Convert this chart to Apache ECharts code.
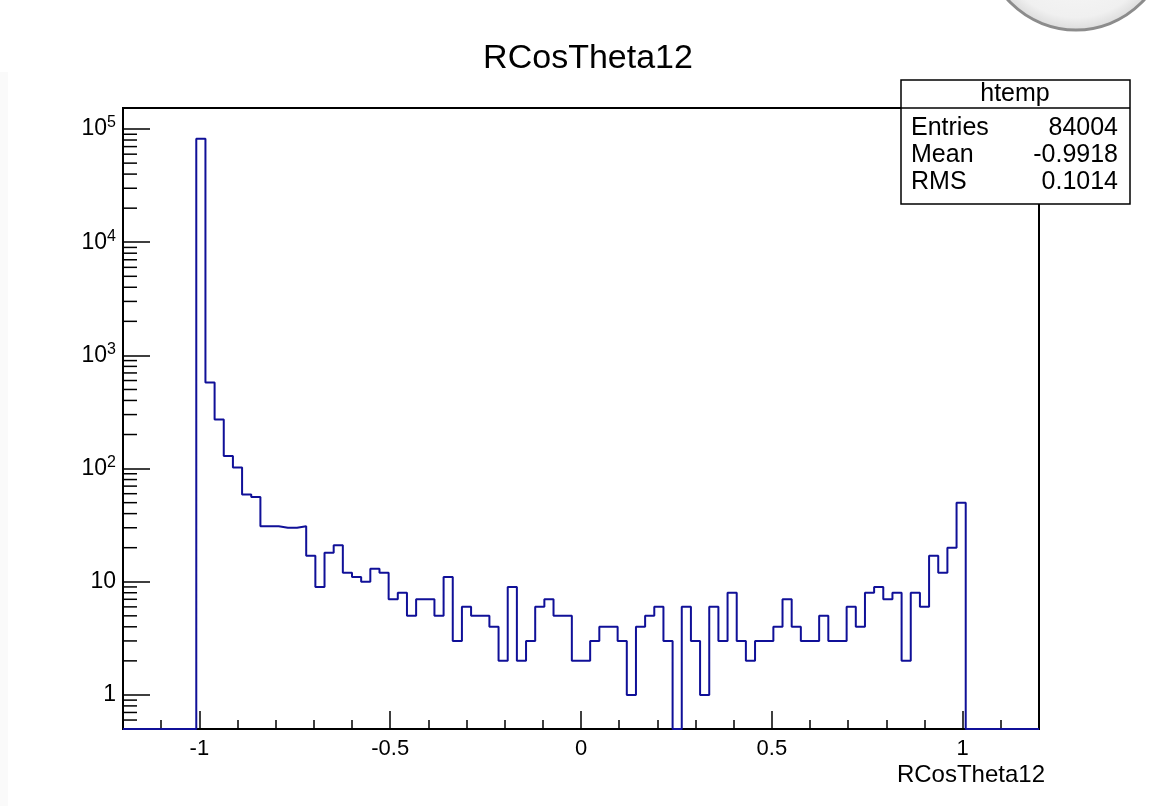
<!DOCTYPE html>
<html>
<head>
<meta charset="utf-8">
<title>RCosTheta12</title>
<script src="https://cdn.jsdelivr.net/npm/echarts@6/dist/echarts.min.js"></script>
<style>
  html, body { margin: 0; padding: 0; background: #fff; }
  #main { width: 1153px; height: 806px; }
</style>
</head>
<body>
<div id="main"></div>
<script>
// htemp : 100 bins between -1.2 and 1.2
var binLow = -1.2;
var binWidth = 0.024;
var counts = [
  0, 0, 0, 0, 0, 0, 0, 0, 82159, 575,
  272, 129, 102, 59, 56, 31, 31, 30, 30, 31,
  17, 9, 18, 21, 12, 11, 10, 13, 12, 7,
  8, 5, 7, 7, 5, 11, 3, 6, 5, 5,
  4, 2, 9, 2, 3, 6, 7, 5, 5, 2,
  2, 3, 4, 4, 3, 1, 4, 5, 6, 3,
  0, 6, 3, 1, 6, 3, 8, 3, 2, 3,
  3, 4, 7, 4, 3, 3, 5, 3, 3, 6,
  4, 8, 9, 7, 8, 2, 8, 6, 17, 12,
  20, 50, 0, 0, 0, 0, 0, 0, 0, 0
];
var xMajorTicks = [-1, -0.5, 0, 0.5, 1];
var xMinorTicks = [-1.1, -0.9, -0.8, -0.7, -0.6, -0.4, -0.3, -0.2, -0.1,
                   0.1, 0.2, 0.3, 0.4, 0.6, 0.7, 0.8, 0.9, 1.1];
var statNames = ['Entries', 'Mean', 'RMS'];
var statValues = ['84004', '-0.9918', '0.1014'];

var xMin = -1.2, xMax = 1.2;
var yMin = 0.5, yMax = 153500;
var font = '"Liberation Sans", Arial, Helvetica, sans-serif';
var lineCol = '#101098';

// step points on the bin edges, empty bins sit on the frame bottom like ROOT does
var histPts = [];
for (var i = 0; i < counts.length; i++) {
  histPts.push([binLow + i * binWidth, Math.max(counts[i], yMin)]);
}
histPts.push([binLow + counts.length * binWidth, Math.max(counts[counts.length - 1], yMin)]);

// log minor ticks 2..9 per decade
var yMinor = [];
for (var d = -1; d <= 5; d++) {
  for (var m = 2; m <= 9; m++) {
    var v = m * Math.pow(10, d);
    if (v > yMin && v < yMax) yMinor.push([xMin, v]);
  }
}

var myChart = echarts.init(document.getElementById('main'));
var option = {
  backgroundColor: '#fff',
  animation: false,
  title: {
    text: 'RCosTheta12',
    left: 583,
    top: 37,
    textAlign: 'center',
    textStyle: { fontSize: 34, fontWeight: 'normal', color: '#000', fontFamily: font }
  },
  grid: {
    left: 123, top: 108, width: 916, height: 621,
    show: true, borderColor: '#000', borderWidth: 2, backgroundColor: 'transparent'
  },
  xAxis: [{
    type: 'value', min: xMin, max: xMax, position: 'bottom',
    axisLine: { show: false, onZero: false },
    splitLine: { show: false },
    axisTick: { inside: true, length: 9, customValues: xMinorTicks, lineStyle: { color: '#000', width: 1.5 } },
    axisLabel: {
      customValues: xMajorTicks, margin: 9, color: '#000', fontSize: 22, fontFamily: font,
      formatter: function (v) { return String(v); }
    }
  }, {
    type: 'value', min: xMin, max: xMax, position: 'bottom',
    axisLine: { show: false, onZero: false },
    splitLine: { show: false },
    axisLabel: { show: false },
    axisTick: { inside: true, length: 18, customValues: xMajorTicks, lineStyle: { color: '#000', width: 1.5 } }
  }],
  yAxis: {
    type: 'log', logBase: 10, min: yMin, max: yMax, position: 'left',
    axisLine: { show: false, onZero: false },
    splitLine: { show: false },
    axisTick: { inside: true, length: 27, lineStyle: { color: '#000', width: 1.5 } },
    axisLabel: {
      margin: 7, color: '#000', showMinLabel: false, showMaxLabel: false,
      formatter: function (v) {
        var p = Math.log10(v), e = Math.round(p);
        if (Math.abs(p - e) > 1e-6) return '';
        if (e === 0) return '{b|1}';
        if (e === 1) return '{b|10}';
        return '{b|10}{s|' + e + '}';
      },
      rich: {
        b: { fontSize: 23, fontFamily: font, color: '#000' },
        s: { fontSize: 16, fontFamily: font, color: '#000', padding: [0, 0, 12, 0] }
      }
    }
  },
  series: [{
    name: 'htemp',
    type: 'line',
    step: 'end',
    symbol: 'none',
    data: histPts,
    lineStyle: { color: lineCol, width: 2 },
    clip: false,
    silent: true,
    z: 5
  }, {
    name: 'yMinorTicks',
    type: 'custom',
    data: yMinor,
    silent: true,
    clip: false,
    renderItem: function (params, api) {
      var p = api.coord([api.value(0), api.value(1)]);
      return {
        type: 'line',
        shape: { x1: p[0], y1: p[1], x2: p[0] + 14, y2: p[1] },
        style: { stroke: '#000', lineWidth: 1.5 }
      };
    }
  }],
  graphic: [
    // faint strip at the left edge
    { type: 'rect', left: 0, top: 72, shape: { width: 8, height: 734 }, style: { fill: '#fafafa' }, z: 0, silent: true },
    // the round grey thing in the corner
    {
      type: 'circle', shape: { cx: 1076, cy: -62, r: 92 }, z: 1, silent: true,
      style: {
        fill: new echarts.graphic.RadialGradient(0.5, 0.5, 0.5, [
          { offset: 0, color: '#fcfcfc' },
          { offset: 0.85, color: '#f0f0f0' },
          { offset: 1, color: '#dadada' }
        ]),
        stroke: '#8c8c8c', lineWidth: 3
      }
    },
    {
      type: 'text', silent: true, z: 10,
      style: { text: 'RCosTheta12', x: 1045, y: 775, align: 'right', verticalAlign: 'middle',
               fontSize: 24, fontFamily: font, fill: '#000' }
    },
    // stats box
    {
      type: 'group', z: 100, silent: true,
      children: [
        { type: 'rect', shape: { x: 901, y: 80, width: 229, height: 124 },
          style: { fill: '#fff', stroke: '#000', lineWidth: 1.5 } },
        { type: 'line', shape: { x1: 901, y1: 108, x2: 1130, y2: 108 },
          style: { stroke: '#000', lineWidth: 1.5 } },
        { type: 'text', style: { text: 'htemp', x: 1015, y: 94, align: 'center', verticalAlign: 'middle',
          fontSize: 25, fontFamily: font, fill: '#000' } },
        { type: 'text', style: { text: statNames[0], x: 911, y: 128, verticalAlign: 'middle', fontSize: 25, fontFamily: font, fill: '#000' } },
        { type: 'text', style: { text: statNames[1], x: 911, y: 155, verticalAlign: 'middle', fontSize: 25, fontFamily: font, fill: '#000' } },
        { type: 'text', style: { text: statNames[2], x: 911, y: 182, verticalAlign: 'middle', fontSize: 25, fontFamily: font, fill: '#000' } },
        { type: 'text', style: { text: statValues[0], x: 1118, y: 128, align: 'right', verticalAlign: 'middle', fontSize: 25, fontFamily: font, fill: '#000' } },
        { type: 'text', style: { text: statValues[1], x: 1118, y: 155, align: 'right', verticalAlign: 'middle', fontSize: 25, fontFamily: font, fill: '#000' } },
        { type: 'text', style: { text: statValues[2], x: 1118, y: 182, align: 'right', verticalAlign: 'middle', fontSize: 25, fontFamily: font, fill: '#000' } }
      ]
    }
  ]
};
myChart.setOption(option);
</script>
</body>
</html>
